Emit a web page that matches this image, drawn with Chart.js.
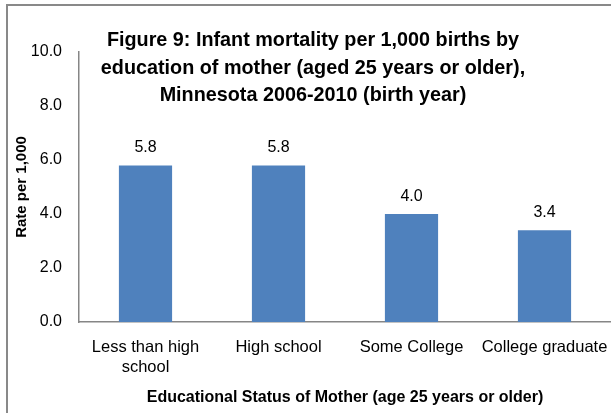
<!DOCTYPE html>
<html>
<head>
<meta charset="utf-8">
<script src="https://cdn.jsdelivr.net/npm/chart.js@4.4.1/dist/chart.umd.min.js"></script>
<style>
  html, body { margin: 0; padding: 0; background: #fff; overflow: hidden; }
  #frame { position: absolute; left: 6px; top: 4px; width: 640px; height: 440px;
           border: 2px solid #898989; box-sizing: border-box; }
  #wrap  { position: absolute; left: 0; top: 0; width: 611px; height: 413px; }
</style>
</head>
<body>
<div id="frame"></div>
<div id="wrap"><canvas id="chart" width="611" height="413"></canvas></div>
<script>
/* ───────────────────────────── data */
const categories  = [['Less than high', 'school'], 'High school', 'Some College', 'College graduate'];
const rates       = [5.8, 5.8, 4.0, 3.4];
const titleLines  = [
  'Figure 9: Infant mortality per 1,000 births by',
  'education of mother (aged 25 years or older),',
  'Minnesota 2006-2010 (birth year)'
];
const yTitle      = 'Rate per 1,000';
const xTitle      = 'Educational Status of Mother (age 25 years or older)';

const FONT = '"Liberation Sans", Arial, sans-serif';

/* ───────────────────────────── title drawn over the plot (Excel style) */
const overlayTitle = {
  id: 'overlayTitle',
  afterDraw(chart) {
    const ctx = chart.ctx;
    ctx.save();
    ctx.font = `bold 19.8px ${FONT}`;
    ctx.fillStyle = '#000';
    ctx.textAlign = 'center';
    ctx.textBaseline = 'alphabetic';
    const base = [46, 74, 101];
    titleLines.forEach((t, i) => ctx.fillText(t, 313, base[i]));
    ctx.restore();
  }
};

/* ───────────────────────────── value labels above bars */
const barLabels = {
  id: 'barLabels',
  afterDatasetsDraw(chart) {
    const ctx  = chart.ctx;
    const meta = chart.getDatasetMeta(0);
    ctx.save();
    ctx.font = `16px ${FONT}`;
    ctx.fillStyle = '#000';
    ctx.textAlign = 'center';
    ctx.textBaseline = 'alphabetic';
    meta.data.forEach((bar, i) => ctx.fillText(rates[i].toFixed(1), bar.x, bar.y - 13));
    ctx.restore();
  }
};

new Chart(document.getElementById('chart'), {
  type: 'bar',
  data: {
    labels: categories,
    datasets: [{
      data: rates,
      backgroundColor: '#4F81BD',
      barPercentage: 0.4,
      categoryPercentage: 1
    }]
  },
  options: {
    responsive: false,
    animation: false,
    layout: { padding: { top: 52, right: 0, left: 0, bottom: 0 } },
    plugins: { legend: { display: false }, tooltip: { enabled: false }, title: { display: false } },
    scales: {
      x: {
        grid: { display: false, drawTicks: false },
        border: { display: true, color: '#868686', width: 1.5 },
        ticks: { color: '#000', font: { family: FONT, size: 16.5, lineHeight: 1.2 }, padding: 16,
                 maxRotation: 0, autoSkip: false },
        title: { display: true, text: xTitle, color: '#000',
                 font: { family: FONT, size: 16, weight: 'bold' }, padding: { top: 6, bottom: 6 } },
        afterFit: s => { s.height = 91; s.paddingLeft = 0; s.paddingRight = 0; }
      },
      y: {
        min: 0, max: 10,
        grid: { display: false, drawTicks: false },
        border: { display: true, color: '#868686', width: 1.5 },
        ticks: { stepSize: 2, color: '#000', font: { family: FONT, size: 16 }, padding: 17,
                 callback: v => v.toFixed(1) },
        title: { display: true, text: yTitle, color: '#000',
                 font: { family: FONT, size: 15, weight: 'bold' }, padding: { top: 13, bottom: 13 } },
        afterFit: s => { s.width = 79; }
      }
    }
  },
  plugins: [overlayTitle, barLabels]
});
</script>
</body>
</html>
